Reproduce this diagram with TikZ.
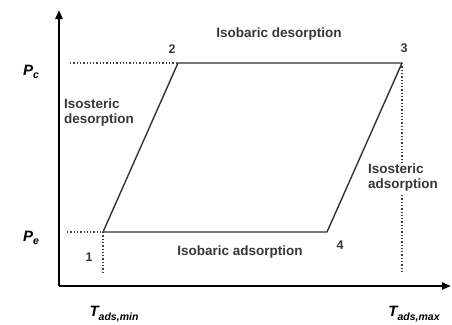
\documentclass[tikz,border=0pt]{standalone}
\usepackage{fontspec}
\setmainfont{Liberation Sans}
\usepackage{xcolor}
\usepackage{tikz}
\usetikzlibrary{arrows.meta, positioning}
\definecolor{labelgray}{RGB}{55, 55, 55}
\newcommand{\axsub}[1]{\raisebox{-3.5pt}{\fontsize{10.5}{12}\selectfont #1}}

\begin{document}
\begin{tikzpicture}[
  x=1pt, y=-1pt,
  axis/.style={line width=2.6pt, -{Triangle[length=9pt, width=7pt]}},
  cycle/.style={line width=1.4pt, color=black!80},
  guide/.style={line width=1.3pt, dotted, color=black!75},
  stage/.style={font=\bfseries\fontsize{13.5}{15}\selectfont, text=labelgray, inner sep=1pt},
  pnum/.style={font=\bfseries\fontsize{12.5}{14}\selectfont, text=labelgray, inner sep=1pt},
  axlabel/.style={font=\bfseries\itshape\fontsize{15}{17}\selectfont, inner sep=1pt}
]
\useasboundingbox (0,0) rectangle (452,324);

% axes
\coordinate (orig) at (59,286);
\coordinate (ytip) at (59,10);
\coordinate (xtip) at (451,286);
\draw[axis] (orig) -- (ytip);
\draw[axis] (orig) -- (xtip);

% cycle corners
\coordinate (c1) at (103,232);
\coordinate (c2) at (178,63);
\coordinate (c3) at (402,63);
\coordinate (c4) at (327,232);

% guide lines
\coordinate (pc0) at (70,63);
\coordinate (pe0) at (67,232);
\coordinate (t1) at (103,274);
\coordinate (t3) at (402,274);
\draw[guide] (pc0) -- (c2);
\draw[guide] (pe0) -- (c1);
\draw[guide] (c1) -- (t1);
\draw[guide] (c3) -- (t3);

\draw[cycle, line join=round] (c1) -- (c2) -- (c3) -- (c4) -- cycle;

% stage labels
\node[stage] (isobdes) at (279,34) {Isobaric desorption};
\node[stage, align=left, anchor=north west] (isodes) at (63,98) {Isosteric\\desorption};
\node[stage] (isobads) at (240,252) {Isobaric adsorption};
\node[stage, align=left, anchor=north west, fill=white] (isoads) at (367,163) {Isosteric\\adsorption};

% corner numbers
\node[pnum] (n1) at (89,257) {1};
\node[pnum] (n2) at (172,49) {2};
\node[pnum] (n3) at (404,48) {3};
\node[pnum] (n4) at (340,245) {4};

% axis labels
\node[axlabel] (pc) at (31,72) {P\axsub{c}};
\node[axlabel] (pe) at (31,238) {P\axsub{e}};
\node[axlabel] (tmin) at (114,314) {T\axsub{ads,min}};
\node[axlabel] (tmax) at (414,314) {T\axsub{ads,max}};

\end{tikzpicture}
\end{document}
